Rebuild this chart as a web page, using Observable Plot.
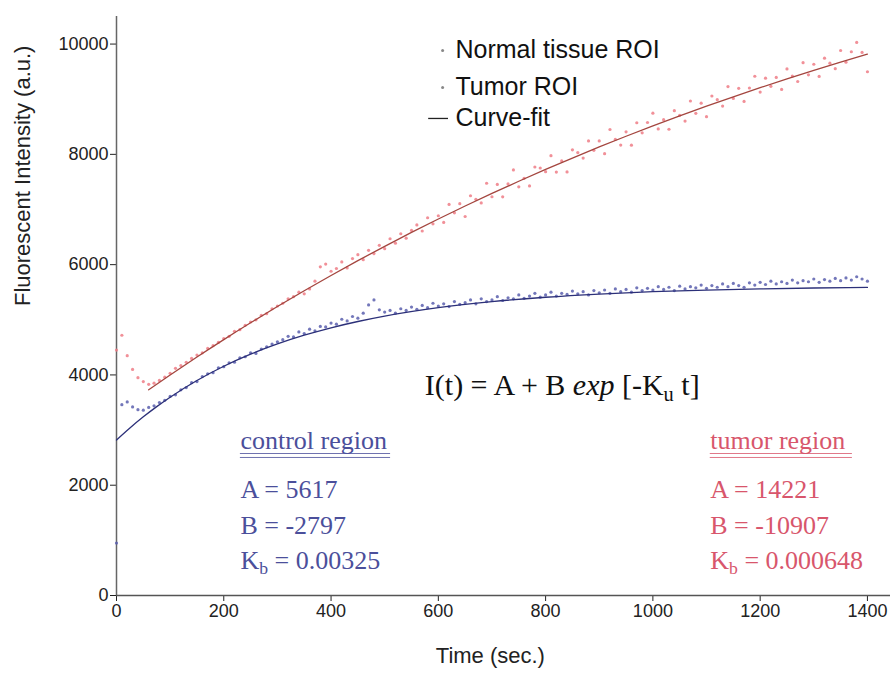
<!DOCTYPE html>
<html>
<head>
<meta charset="utf-8">
<script src="https://cdn.jsdelivr.net/npm/d3@7"></script>
<script src="https://cdn.jsdelivr.net/npm/@observablehq/plot@0.6"></script>
<style>
  html, body { margin: 0; padding: 0; background: #fff; }
  #chart { width: 894px; height: 675px; }
</style>
</head>
<body>
<div id="chart"></div>
<script>
// ---------- data ----------
const xTicks = [0, 200, 400, 600, 800, 1000, 1200, 1400];
const yTicks = [0, 2000, 4000, 6000, 8000, 10000];
const sampleStep = 10; // seconds between samples

const normalROI = [
  950, 3460, 3510, 3420, 3370, 3360, 3410, 3440, 3500, 3540,
  3610, 3640, 3730, 3770, 3860, 3880, 3970, 4020, 4040, 4130,
  4150, 4220, 4230, 4310, 4330, 4400, 4390, 4470, 4510, 4560,
  4600, 4640, 4700, 4690, 4780, 4750, 4830, 4800, 4880, 4870,
  4940, 4920, 5010, 4980, 5060, 5030, 5120, 5270, 5360, 5180,
  5140, 5170, 5120, 5200, 5170, 5230, 5190, 5260, 5220, 5300,
  5250, 5290, 5240, 5330, 5280, 5310, 5360, 5290, 5380, 5330,
  5360, 5420, 5350, 5400, 5380, 5450, 5390, 5430, 5480, 5410,
  5450, 5500, 5430, 5480, 5460, 5520, 5470, 5510, 5450, 5530,
  5490, 5540, 5480, 5560, 5510, 5550, 5500, 5580, 5530, 5570,
  5540, 5600, 5550, 5590, 5530, 5610, 5560, 5600, 5580, 5630,
  5570, 5620, 5590, 5650, 5600, 5660, 5620, 5590, 5670, 5630,
  5680, 5640, 5700, 5650, 5690, 5660, 5720, 5670, 5710, 5690,
  5740, 5680, 5730, 5700, 5750, 5710, 5760, 5720, 5780, 5740,
  5700
];

const tumorROI = [
  4450, 4720, 4350, 4100, 3950, 3880, 3830, 3850, 3900, 3960,
  4030, 4120, 4170, 4230, 4300, 4360, 4400, 4480, 4530, 4590,
  4660, 4700, 4790, 4820, 4900, 4960, 5000, 5080, 5110, 5200,
  5250, 5300, 5380, 5420, 5500, 5470, 5560, 5700, 5960, 6010,
  5880, 5930, 6050, 5940, 6110, 6180, 6090, 6260, 6200, 6350,
  6290, 6470, 6390, 6560, 6480, 6620, 6720, 6610, 6850, 6740,
  6887, 6765, 7092, 6939, 7106, 6873, 7249, 7185, 7120, 7476,
  7231, 7455, 7230, 7464, 7718, 7412, 7565, 7428, 7771, 7753,
  7686, 7977, 7679, 7880, 7682, 8083, 8033, 7933, 8244, 8074,
  8244, 8013, 8451, 8270, 8169, 8408, 8166, 8573, 8391, 8578,
  8746, 8462, 8629, 8455, 8792, 8708, 8603, 8968, 8744, 8929,
  8684, 9058, 8992, 8876, 9230, 9014, 9197, 8960, 9203, 9416,
  9129, 9381, 9233, 9395, 9177, 9549, 9420, 9321, 9662, 9443,
  9634, 9414, 9744, 9653, 9553, 9883, 9672, 9861, 10030, 9849,
  9498
];

const normalFitTime  = [0, 25, 50, 75, 100, 150, 200, 250, 300, 350, 400, 450, 500, 600, 700, 800, 900, 1000, 1100, 1200, 1300, 1400];
const normalFitValue = [2820, 3038, 3240, 3425, 3596, 3899, 4157, 4376, 4562, 4720, 4855, 4969, 5066, 5219, 5329, 5409, 5467, 5509, 5539, 5560, 5576, 5587];

const tumorFitTime  = [60, 100, 150, 200, 250, 300, 350, 400, 450, 500, 550, 600, 650, 700, 750, 800, 850, 900, 950, 1000, 1050, 1100, 1150, 1200, 1250, 1300, 1350, 1400];
const tumorFitValue = [3730, 3998, 4324, 4640, 4945, 5241, 5527, 5804, 6073, 6332, 6584, 6827, 7063, 7291, 7512, 7726, 7933, 8134, 8328, 8516, 8698, 8874, 9044, 9209, 9369, 9524, 9673, 9818];

const legendLabels = ["Normal tissue ROI", "Tumor ROI", "Curve-fit"];
const formulaText = "I(t) = A + B *exp* [-K_u t]";
const controlLines = ["A = 5617", "B = -2797", "K_b = 0.00325"];
const tumorLines = ["A = 14221", "B = -10907", "K_b = 0.000648"];

// ---------- tables ----------
const normalData = normalROI.map((v, i) => ({t: i * sampleStep, v}));
const tumorData = tumorROI.map((v, i) => ({t: i * sampleStep, v}));
const normalFit = normalFitTime.map((t, i) => ({t, v: normalFitValue[i]}));
const tumorFit = tumorFitTime.map((t, i) => ({t, v: tumorFitValue[i]}));

const BLUE_PT = "#5a5fae", RED_PT = "#ee7d86", BLUE_FIT = "#2c3079", RED_FIT = "#a4463f";
const CTRL = "#4b4f9b", TUM = "#d8566c";
const SERIF = "'Liberation Serif', 'Times New Roman', serif";

const annRows = [2811, 1922, 1269, 635]; // y positions of annotation rows (data units)

const plot = Plot.plot({
  width: 894,
  height: 675,
  marginLeft: 116,
  marginRight: 4,
  marginTop: 16,
  marginBottom: 80,
  style: {fontFamily: "'Liberation Sans', Arial, sans-serif", fontSize: "18px", color: "#222", background: "#fff"},
  x: {domain: [0, 1443]},
  y: {domain: [0, 10500]},
  marks: [
    Plot.axisX({ticks: xTicks, tickSize: 6, tickPadding: 3, tickFormat: d => String(d), label: null, fontSize: 18}),
    Plot.axisY({ticks: yTicks, tickSize: 6, tickPadding: 2, tickFormat: d => String(d), label: null, fontSize: 18}),
    Plot.ruleX([0], {stroke: "#666", strokeWidth: 1.5}),
    Plot.ruleY([0], {stroke: "#555", strokeWidth: 1.5}),
    // data
    Plot.dot(normalData, {x: "t", y: "v", r: 1.6, fill: BLUE_PT, fillOpacity: 0.85}),
    Plot.dot(tumorData, {x: "t", y: "v", r: 1.6, fill: RED_PT, fillOpacity: 0.85}),
    Plot.line(normalFit, {x: "t", y: "v", curve: "monotone-x", stroke: BLUE_FIT, strokeWidth: 1.3}),
    Plot.line(tumorFit, {x: "t", y: "v", curve: "monotone-x", stroke: RED_FIT, strokeWidth: 1.3}),
    // legend
    Plot.dot([9884, 9213], {x: 608, y: d => d, r: 1.5, fill: "#888"}),
    Plot.ruleY([8651], {x1: 582, x2: 619, stroke: "#222", strokeWidth: 1.3}),
    Plot.text(legendLabels, {x: 632, y: (d, i) => [9884, 9213, 8651][i], text: d => d, textAnchor: "start", fontSize: 25, fill: "#111"}),
    // formula
    Plot.text([formulaText], {x: 831, y: 3808, text: d => d, fontSize: 30, fontFamily: SERIF, fill: "#111"}),
    // control region
    Plot.text(["control region"], {x: 231, y: annRows[0], text: d => d, textAnchor: "start", fontSize: 26, fontFamily: SERIF, fill: CTRL}),
    Plot.ruleY([2575, 2503], {x1: 231, x2: 511, stroke: CTRL, strokeWidth: 1, strokeOpacity: 0.8}),
    Plot.text(controlLines, {x: 231, y: (d, i) => annRows[i + 1], text: d => d, textAnchor: "start", fontSize: 26, fontFamily: SERIF, fill: CTRL}),
    // tumor region
    Plot.text(["tumor region"], {x: 1107, y: annRows[0], text: d => d, textAnchor: "start", fontSize: 26, fontFamily: SERIF, fill: TUM}),
    Plot.ruleY([2575, 2503], {x1: 1107, x2: 1372, stroke: TUM, strokeWidth: 1, strokeOpacity: 0.8}),
    Plot.text(tumorLines, {x: 1107, y: (d, i) => annRows[i + 1], text: d => d, textAnchor: "start", fontSize: 26, fontFamily: SERIF, fill: TUM}),
    // axis titles
    Plot.text(["Time (sec.)"], {x: 697, frameAnchor: "bottom", dy: 67, text: d => d, fontSize: 22, fill: "#222"}),
    Plot.text(["Fluorescent Intensity (a.u.)"], {frameAnchor: "left", dx: -94, rotate: -90, text: d => d, fontSize: 22, fill: "#222"})
  ]
});

// rich text: _x -> subscript, *word* -> italic
d3.select(plot).selectAll("text").each(function() {
  const s = this.textContent;
  if (!/(_\w|\*[^*]+\*)/.test(s)) return;
  const el = d3.select(this);
  el.text(null);
  const parts = s.split(/(_\w|\*[^*]+\*)/).filter(p => p);
  let sub = false;
  parts.forEach(p => {
    if (p[0] === "_") {
      el.append("tspan").attr("dy", "0.3em").attr("font-size", "68%").text(p.slice(1));
      sub = true;
    } else {
      const t = el.append("tspan");
      if (sub) { t.attr("dy", "-0.2em"); sub = false; }
      if (p[0] === "*") t.attr("font-style", "italic").text(p.slice(1, -1));
      else t.text(p);
    }
  });
});

document.getElementById("chart").appendChild(plot);
</script>
</body>
</html>
